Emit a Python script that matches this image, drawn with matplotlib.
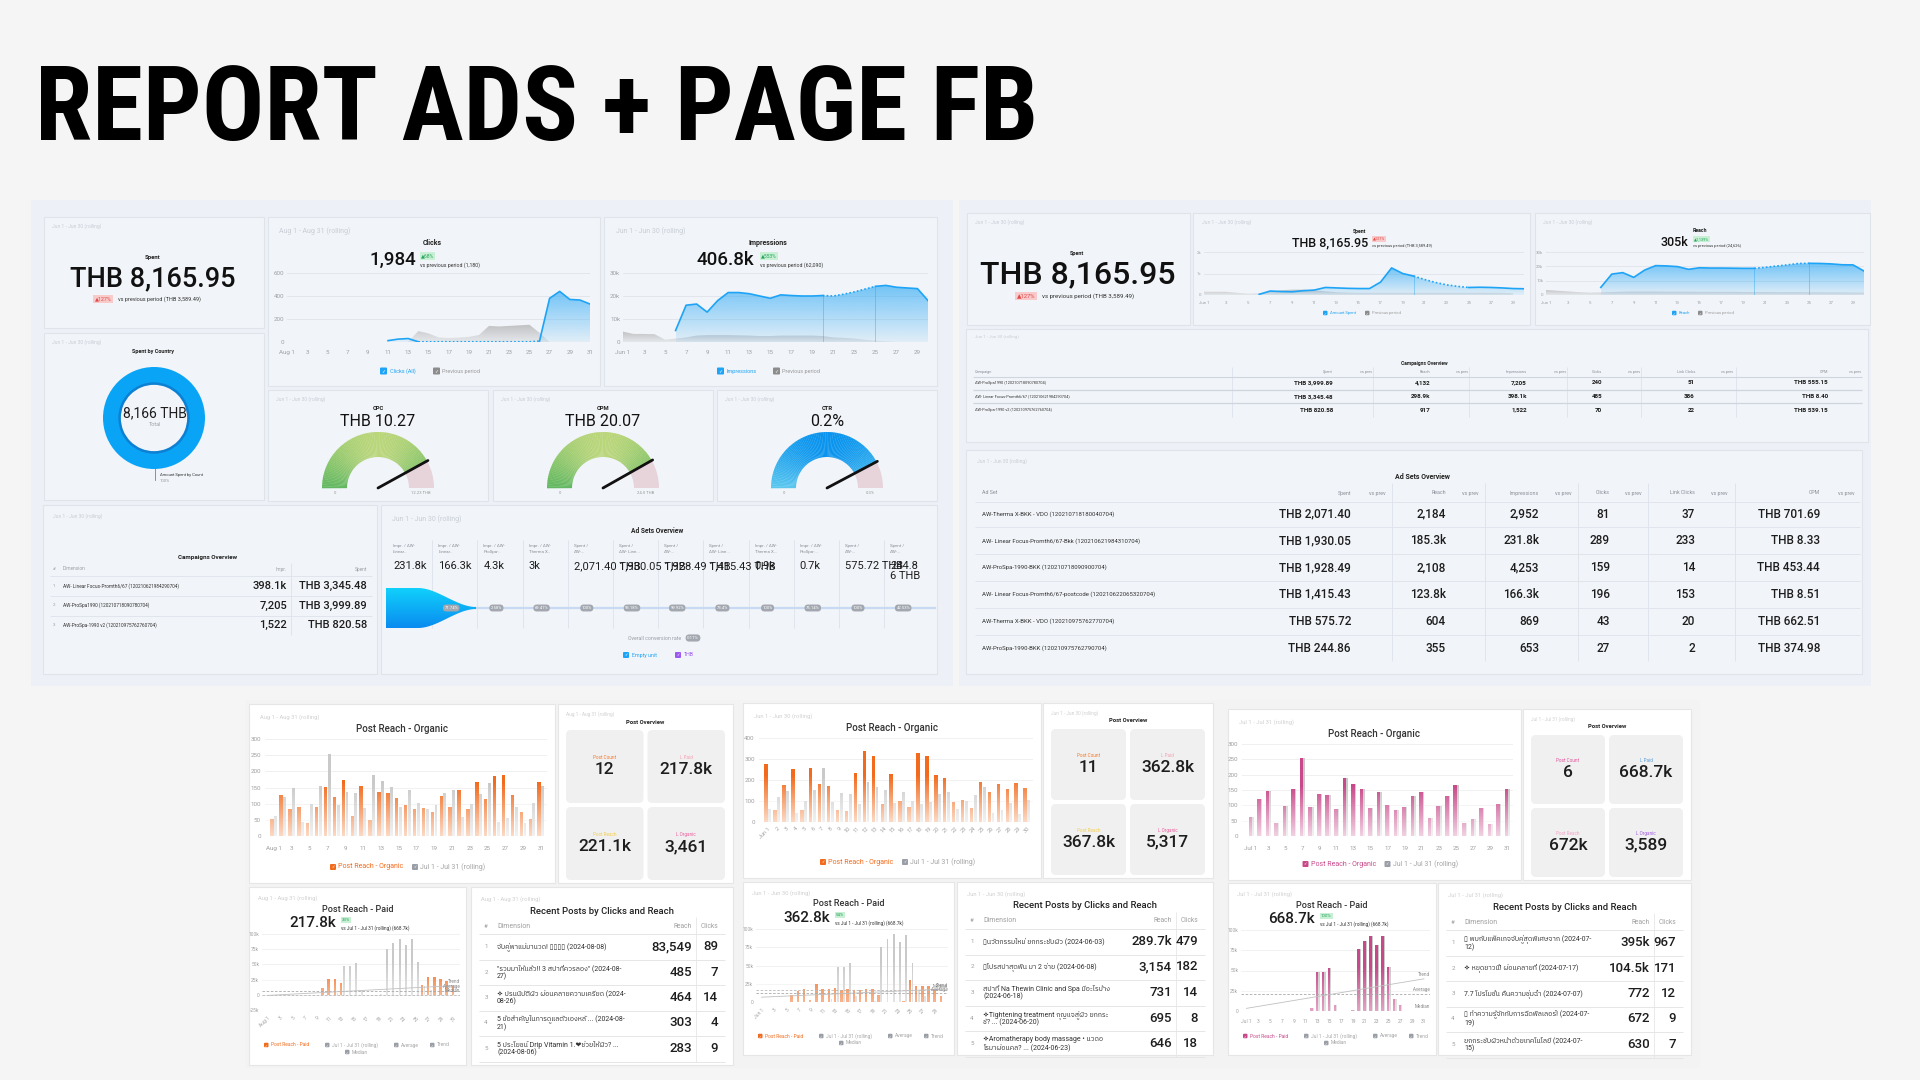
import numpy as np
import matplotlib
matplotlib.use("Agg")
import matplotlib.pyplot as plt
from matplotlib import font_manager as fm
from matplotlib.patches import FancyBboxPatch, Rectangle, Wedge, Polygon
from matplotlib.colors import to_rgb
from matplotlib.transforms import blended_transform_factory
try:
    from matplotlib.ft2font import FT2Font
except Exception:
    FT2Font = None

# ======================= DATA =======================
report_title = "REPORT ADS + PAGE FB"
period_jun = "Jun 1 - Jun 30 (rolling)"
period_aug = "Aug 1 - Aug 31 (rolling)"
period_jul = "Jul 1 - Jul 31 (rolling)"

spent_total = 8165.95
spent_prev_total = 3589.49
spent_change = "127%"

clicks_total = "1,984"; clicks_change = "68%"; clicks_prev_total = "1,180"
impr_total = "406.8k"; impr_change = "553%"; impr_prev_total = "62,090"
reach_total = "305k"; reach_change = "1,139%"; reach_prev_total = "24,626"

aug_days = list(range(1, 32))
jun_days = list(range(1, 31))
jul_days = list(range(1, 32))
N = np.nan

clicks_cur = [N]*10 + [12, 25, 30, 2, 2, 2, 2, 2, 2, 2, 2, 2, 2, 2, 2, 8, 380, 440, 370, 365, 330]
clicks_prev = [N]*12 + [2, 95, 75, 40, 35, 38, 45, 60, 140, 135, 140, 145, 150, 80, 0] + [N]*4

impr_cur = [N]*5 + [5000, 16000, 16500, 13000, 18000, 21500, 21500, 21000, 20000, 19000, 20500, 20200,
                    20000, 20000, 20200, 20000, 20800, 21800, 23000, 24200, 24600, 23800, 23500, 23200, 18000]
impr_prev = [4500, 3500, 3500, 3400, 1000, 1500, 2000, 2800, 3000, 3000, 3000, 2900, 2800, 2600, 2600,
             2800, 2800, 2800, 2800, 2600, 2000, 1800, 1500, 1000, 600, 300, 0, N, N, N]

spent_daily_cur = [N]*5 + [30, 185, 160, 150, 200, 230, 350, 330, 310, 300, 300, 600, 1260, 1000, 880, 720,
                           580, 470, 400, 350, 360, 350, 330, 300, 290]
spent_daily_prev = [150, 150, 150, 100, 60, 80, 150, 220, 250, 250, 220, 170, 130, 110, 100, 100, 100, 100, 100,
                    100, 100, 100, 100, 100, 100, 100, 100, 100, 80, N]

reach_cur = [N]*5 + [5300, 14600, 15600, 12300, 17400, 20500, 20300, 19800, 17900, 19000, 18800, 18800,
                     18700, 18600, 18600, 19300, 20200, 21000, 22000, 22100, 22000, 21700, 21100, 21000, 16700]
reach_prev = [3500, 3000, 2500, 2000, 1600, 1800, 2100, 2300, 2400, 2400, 2400, 2300, 2300, 2300, 2200,
              2200, 2200, 2200, 2100, 2100, 2100, 2000, 2000, 2000, 1900, 1900, 1800, 1800, 1700, 1700]

gauge_names = ["CPC", "CPM", "CTR"]
gauge_values = [10.27, 20.07, 0.245]
gauge_max = [12.23, 24.0, 0.29]
gauge_labels = ["THB 10.27", "THB 20.07", "0.2%"]
gauge_max_labels = ["12.23 THB", "24.0 THB", "0.3%"]

country_spent = [8165.95]
country_label = "8,166 THB"

camp_names = ["AW- Linear Focus-Promth6/67 (120210621984290704)", "AW-ProSpa1990 (120210718090780704)",
              "AW-ProSpa-1990 v2 (120210975762760704)"]
camp_impr = ["398.1k", "7,205", "1,522"]
camp_spent = [3345.48, 3999.89, 820.58]

rc_names = ["AW-ProSpa1990 (120210718090780704)", "AW- Linear Focus-Promth6/67 (120210621984290704)",
            "AW-ProSpa-1990 v2 (120210975762760704)"]
rc_spent = [3999.89, 3345.48, 820.58]
rc_reach = ["4,132", "298.9k", "917"]
rc_impr = ["7,205", "398.1k", "1,522"]
rc_clicks = [240, 485, 70]
rc_link = [51, 386, 22]
rc_cpm = [555.15, 8.40, 539.15]

as_names = ["AW-Therma X-BKK - VDO (120210718180040704)", "AW- Linear Focus-Promth6/67-Bkk (120210621984310704)",
            "AW-ProSpa-1990-BKK (120210718090900704)", "AW- Linear Focus-Promth6/67-postcode (120210622065320704)",
            "AW-Therma X-BKK - VDO (120210975762770704)", "AW-ProSpa-1990-BKK (120210975762790704)"]
as_spent = [2071.40, 1930.05, 1928.49, 1415.43, 575.72, 244.86]
as_reach = ["2,184", "185.3k", "2,108", "123.8k", "604", "355"]
as_impr = ["2,952", "231.8k", "4,253", "166.3k", "869", "653"]
as_clicks = [81, 289, 159, 196, 43, 27]
as_link = [37, 233, 14, 153, 20, 2]
as_cpm = [701.69, 8.33, 453.44, 8.51, 662.51, 374.98]

fun_headers = ["Impr. / AW-\nLinear..", "Impr. / AW-\nLinear..", "Impr. / AW-\nProSpa-..", "Impr. / AW-\nTherma X..",
               "Spent /\nAW-...", "Spent /\nAW- Line...", "Spent /\nAW-...", "Spent /\nAW- Line...",
               "Impr. / AW-\nTherma X...", "Impr. / AW-\nProSpa-...", "Spent /\nAW-...", "Spent /\nAW-..."]
fun_values = ["231.8k", "166.3k", "4.3k", "3k", "2,071.40 THB", "1,930.05 THB", "1,928.49 THB", "1,415.43 THB",
              "0.9k", "0.7k", "575.72 THB", "244.8\n6 THB"]
fun_rates = ["", "71.74%", "2.58%", "69.41%", "100%", "93.18%", "99.92%", "73.4%", "100%", "75.14%", "100%", "42.53%"]
fun_overall = "0.11%"

org_aug = [53, 127, 84, 89, 39, 91, 153, 122, 172, 61, 154, 48, 137, 134, 116, 97, 84, 87, 73, 125, 90, 141,
           85, 168, 114, 185, 190, 127, 75, 53, 166]
org_jul = [63, 120, 148, 43, 99, 154, 255, 96, 136, 134, 88, 189, 169, 152, 90, 142, 102, 85, 95, 132, 142,
           60, 98, 130, 165, 44, 57, 91, 39, 103, 154]
org_jun = [275, 59, 176, 251, 59, 259, 183, 171, 57, 51, 235, 340, 314, 84, 230, 100, 71, 327, 316, 225, 208,
           94, 103, 68, 189, 141, 183, 155, 184, 163]

paid_aug = [0]*9 + [10500, 26000, 25500, 20000] + [0]*12 + [15500, 29000, 29500, 26000, 22000, 14000]
paid_jul = [0]*11 + [3500, 48000, 48000, 53000, 8000, 0, 0, 1000, 76000, 86000, 92500, 82000, 92000, 54000,
                     14500, 8000, 0, 0, 0, 0]
paid_jun = [0]*5 + [10000, 15000, 18000, 3000, 25000, 18000, 18000, 19000, 17000, 18000, 16000, 17000, 18000,
                    18000, 10000, 0, 0, 0, 2000, 30000, 22000, 22000, 22000, 17000, 8000]

po_count = ["12", "11", "6"]
po_paid = ["217.8k", "362.8k", "668.7k"]
po_reach = ["221.1k", "367.8k", "672k"]
po_org = ["3,461", "5,317", "3,589"]
paid_change = ["33%", "54%", "100%"]
paid_compare = "vs Jul 1 - Jul 31 (rolling) (668.7k)"

rec_aug_posts = ["จับคู่พาแม่มานวด! ▯▯▯▯ (2024-08-08)", "\"รวมมาให้แล้ว!! 3 สปาที่ควรลอง\" (2024-08-\n27)",
                 "✧ ปรนนิบัติผิว ผ่อนคลายความเครียด (2024-\n08-26)", "5 ข้อสำคัญในการดูแลตัวเองหลั ... (2024-08-\n21)",
                 "5 ประโยชน์ Drip Vitamin 1.❤ช่วยให้ผิว? ...\n(2024-08-06)"]
rec_aug_reach = ["83,549", "485", "464", "303", "283"]
rec_aug_clicks = [89, 7, 14, 4, 9]
rec_jun_posts = ["▯นวัตกรรมใหม่ ยกกระชับผิว (2024-06-03)", "▯โปรสปาสุดฟิน มา 2 จ่าย (2024-06-08)",
                 "สปาที่ Na Thewin Clinic and Spa มีอะไรบ้าง\n(2024-06-18)",
                 "✧Tightening treatment กุญแจสู่ผิว ยกกระ\nชั? ... (2024-06-20)",
                 "✧Aromatherapy body massage • นวดอ\nโรมาผ่อนคล? ... (2024-06-23)"]
rec_jun_reach = ["289.7k", "3,154", "731", "695", "646"]
rec_jun_clicks = [479, 182, 14, 8, 18]
rec_jul_posts = ["▯ พบกับแพ็คเกจจับคู่สุดพิเศษจาก (2024-07-\n12)", "✧ หยุดยาวนี้! ผ่อนคลายที่ (2024-07-17)",
                 "7.7 โปรโมชั่น คืนความชุ่มฉ่ำ (2024-07-07)", "▯ ทำความรู้จักกับการฉีดฟิลเลอร์! (2024-07-\n19)",
                 "ยกกระชับผิวหน้าด้วยเทคโนโลยี (2024-07-\n15)"]
rec_jul_reach = ["395k", "104.5k", "772", "672", "630"]
rec_jul_clicks = [967, 171, 12, 9, 7]

# ======================= FONTS =======================
names = {f.name for f in fm.fontManager.ttflist}
def pick(c, default="DejaVu Sans"):
    for n in c:
        if n in names:
            return n
    return default
BASE = pick(["Roboto", "Inter", "Noto Sans"])
TITLEF = pick(["Liberation Sans Narrow", "Roboto Condensed", "Liberation Sans", "Roboto"])

def find_thai():
    for f in fm.fontManager.ttflist:
        if "thai" in f.name.lower():
            return f.name
    if FT2Font is None:
        return None
    for f in fm.fontManager.ttflist:
        if "cjk" in f.fname.lower():
            continue
        try:
            cm = FT2Font(f.fname).get_charmap()
        except Exception:
            continue
        if 0x0E01 in cm and 0x0E32 in cm:
            return f.name
    return None
THAI = find_thai()
plt.rcParams["font.family"] = [BASE] + ([THAI] if THAI else []) + ["DejaVu Sans"]
plt.rcParams["axes.unicode_minus"] = False

# ======================= HELPERS =======================
W, H = 1920, 1080
fig = plt.figure(figsize=(19.2, 10.8), dpi=100)
fig.patch.set_facecolor("#f5f5f5")
bg = fig.add_axes([0, 0, 1, 1])
bg.set_xlim(0, W); bg.set_ylim(H, 0); bg.axis("off")

SUB = "#c9ced6"

def rect(x0, y0, x1, y1, fc, ec="none", lw=0.8, r=0, z=1):
    if r > 0:
        p = FancyBboxPatch((x0, y0), x1 - x0, y1 - y0, boxstyle=f"round,pad=0,rounding_size={r}",
                           fc=fc, ec=ec, lw=lw, zorder=z)
    else:
        p = Rectangle((x0, y0), x1 - x0, y1 - y0, fc=fc, ec=ec, lw=lw, zorder=z)
    bg.add_patch(p)

def T(x, y, s, fs, c="#222222", ha="center", va="center", w="normal", z=6, **kw):
    return bg.text(x, y, s, fontsize=fs, color=c, ha=ha, va=va, fontweight=w, zorder=z, **kw)

def hl(x0, x1, y, c="#dde2ea", lw=0.6):
    bg.plot([x0, x1], [y, y], color=c, lw=lw, zorder=3, solid_capstyle="butt")

def vl(x, y0, y1, c="#dde2ea", lw=0.6):
    bg.plot([x, x], [y0, y1], color=c, lw=lw, zorder=3, solid_capstyle="butt")

def badge(x, y, s, fs, fc, tc, ha="center"):
    bg.text(x, y, s, fontsize=fs, color=tc, ha=ha, va="center", zorder=7,
            bbox=dict(boxstyle="square,pad=0.25", fc=fc, ec="none"))

def pill(x, y, s, fs, fc="#a3a8b0", tc="white"):
    bg.text(x, y, s, fontsize=fs, color=tc, ha="center", va="center", zorder=8,
            bbox=dict(boxstyle="round,pad=0.35,rounding_size=0.8", fc=fc, ec="none"))

def check(x, y, c, label, fs, lc=None, s=6):
    rect(x, y - s / 2, x + s, y + s / 2, c, r=1, z=7)
    bg.text(x + s / 2, y, "✓", fontsize=s * 0.5, color="white", ha="center", va="center", zorder=8,
            family="DejaVu Sans")
    bg.text(x + s + 2.5, y, label, fontsize=fs, color=lc or c, ha="left", va="center", zorder=8)

def pax(l, t, r, b):
    a = fig.add_axes([l / W, 1 - b / H, (r - l) / W, (b - t) / H])
    a.patch.set_alpha(0)
    for s in a.spines.values():
        s.set_visible(False)
    a.tick_params(length=0, labelsize=4.5, labelcolor="#9ea3ab", pad=2)
    return a

def xmap(a, l, r, p0, pn, d0, dn):
    s = (pn - p0) / (dn - d0)
    a.set_xlim(d0 - (p0 - l) / s, dn + (r - pn) / s)

def grad_fill(a, x, y, color, atop, abot, z=1):
    if len(x) < 2:
        return
    verts = np.vstack([np.column_stack([x, y]), [[x[-1], 0], [x[0], 0]]])
    poly = Polygon(verts, closed=True, fc="none", ec="none", transform=a.transData)
    a.add_patch(poly)
    img = np.zeros((64, 1, 4))
    img[..., :3] = to_rgb(color)
    img[..., 3] = np.linspace(abot, atop, 64)[:, None]
    im = a.imshow(img, aspect="auto", origin="lower", extent=[x[0], x[-1], 0, np.max(y) * 1.001 + 1e-9],
                  zorder=z, interpolation="bilinear")
    im.set_clip_path(poly)

def mix(c1, c2, t):
    return tuple(np.array(to_rgb(c1)) * (1 - t) + np.array(to_rgb(c2)) * t)

def day_labels(ticks, prefix):
    return [f"{prefix} {d}" if d == 1 else str(d) for d in ticks]

BLUE = "#1ea4f6"

def top_line(l, t, r, b, days, cur, prev, yticks, ylabels, prefix, dotted, vlines, fs=4.5, padx=6):
    a = pax(l, t, r, b)
    d = np.asarray(days, float)
    cur = np.array(cur, float); prev = np.array(prev, float)
    a.set_yticks(yticks); a.set_yticklabels(ylabels)
    xt = list(days[::2]); a.set_xticks(xt); a.set_xticklabels(day_labels(xt, prefix))
    a.grid(axis="y", color="#e0e4ea", lw=0.6); a.set_axisbelow(True)
    mp = ~np.isnan(prev)
    grad_fill(a, d[mp], prev[mp], "#8c8c8c", 0.5, 0.12, z=1)
    mc = ~np.isnan(cur)
    grad_fill(a, d[mc], cur[mc], BLUE, 0.6, 0.08, z=2)
    d0, d1 = dotted
    for mask, ls in [(d <= d0, "-"), ((d >= d0) & (d <= d1), (0, (1, 1.3))), (d >= d1, "-")]:
        mm = mask & mc
        a.plot(d[mm], cur[mm], color=BLUE, lw=1.2, ls=ls, zorder=3)
    for v in vlines:
        a.plot([v, v], [0, cur[d == v][0]], color=BLUE, lw=0.4, alpha=0.7, zorder=3)
    a.set_xlim(d[0], d[-1]); a.set_ylim(yticks[0], yticks[-1])
    a.tick_params(axis="both", labelsize=fs)
    a.tick_params(axis="x", pad=padx)
    return a

# ======================= TITLE =======================
tt = T(35, 140, report_title, 60, "#000000", ha="left", va="baseline", w="bold", family=TITLEF)
fig.canvas.draw()
wpx = tt.get_window_extent(renderer=fig.canvas.get_renderer()).width
tt.set_fontsize(60 * 1004 / wpx)

# ======================= LEFT BLOCK =======================
rect(31, 200, 953, 686, "#edf1f7")
PF, PE = "#f1f4f8", "#dfe4eb"
for bx in [(44, 217, 264, 328), (44, 333, 264, 500), (268, 217, 600, 386), (604, 217, 937, 386),
           (268, 390, 488, 501), (493, 390, 713, 501), (717, 390, 937, 501), (43, 505, 377, 674),
           (381, 505, 937, 674)]:
    rect(*bx, PF, ec=PE, lw=0.8, z=2)

# Spent
T(52, 226, period_jun, 3.5, SUB, ha="left")
T(153, 258, "Spent", 4.3, w="bold")
T(153, 279, f"THB {spent_total:,.2f}", 19.5, "#111111", w="medium")
badge(103, 299, "▲" + spent_change, 3.8, "#f9caca", "#e04848")
T(118, 299, f"vs previous period (THB {spent_prev_total:,.2f})", 4.0, "#333333", ha="left")

# Spent by Country donut
T(52, 342, period_jun, 3.5, SUB, ha="left")
T(153, 351, "Spent by Country", 4.0, w="bold")
da = pax(103, 367, 205, 469)
da.pie(country_spent, radius=1, colors=["#0aa4f6"], startangle=90,
       wedgeprops=dict(width=0.32, edgecolor="none"))
da.add_patch(Wedge((0, 0), 0.7, 0, 360, width=0.05, fc="#0c80d3", ec="none"))
da.set_xlim(-1, 1); da.set_ylim(-1, 1); da.axis("off")
T(155, 413, country_label, 10, "#1d1d1d")
T(155, 424, "Total", 4.0, "#a0a5ad")
bg.plot([155, 155], [468, 480], color="#0aa4f6", lw=0.6, zorder=5)
T(160, 475, "Amount Spent by Count", 3.0, "#333333", ha="left")
T(160, 480.5, "100%", 3.0, "#999999", ha="left")

# Clicks
T(279, 231, period_aug, 5, SUB, ha="left")
T(432, 243, "Clicks", 5, w="bold")
T(416, 260, clicks_total, 13.5, "#111111", ha="right", w="medium")
badge(421, 256, "▲" + clicks_change, 3.6, "#c9efd5", "#22a45a", ha="left")
T(420, 265, f"vs previous period ({clicks_prev_total})", 3.8, "#333333", ha="left")
top_line(287, 273, 590, 342, aug_days, clicks_cur, clicks_prev, [0, 200, 400, 600],
         ["0", "200", "400", "600"], "Aug", (14, 26), [])
check(380, 371, BLUE, "Clicks (All)", 4.0, s=7)
check(433, 371, "#8c8c8c", "Previous period", 4.0, lc="#9a9a9a", s=7)

# Impressions
T(616, 231, period_jun, 5, SUB, ha="left")
T(768, 243, "Impressions", 5, w="bold")
T(754, 260, impr_total, 13.5, "#111111", ha="right", w="medium")
badge(761, 256, "▲" + impr_change, 3.6, "#c9efd5", "#22a45a", ha="left")
T(760, 265, f"vs previous period ({impr_prev_total})", 3.8, "#333333", ha="left")
top_line(623, 273, 928, 342, jun_days, impr_cur, impr_prev, [0, 10000, 20000, 30000],
         ["0", "10k", "20k", "30k"], "Jun", (20, 25), [20, 25])
check(717, 371, BLUE, "Impressions", 4.0, s=7)
check(773, 371, "#8c8c8c", "Previous period", 4.0, lc="#9a9a9a", s=7)

# Gauges
gauge_cols = [("#5fb760", "#bad67a"), ("#5fb760", "#bad67a"), ("#5cc8ef", "#0a94ee")]
for i, (l, cx) in enumerate([(268, 378), (493, 603), (717, 827)]):
    T(l + 8, 399, period_jun, 3.5, SUB, ha="left")
    T(cx, 408, gauge_names[i], 4.2, w="bold")
    T(cx, 422, gauge_labels[i], 11.5, "#111111")
    ga = pax(cx - 60, 426, cx + 60, 496)
    ga.set_xlim(-60, 60); ga.set_ylim(-8, 62); ga.axis("off")
    frac = gauge_values[i] / gauge_max[i]
    tv = 180 * (1 - frac)
    edges = np.linspace(tv, 180, 80)
    for a1, a2 in zip(edges[:-1], edges[1:]):
        mid = np.radians((a1 + a2) / 2)
        ga.add_patch(Wedge((0, 0), 56, a1, a2 + 0.3, width=25,
                           fc=mix(gauge_cols[i][0], gauge_cols[i][1], np.sin(mid)), ec="none"))
    ga.add_patch(Wedge((0, 0), 56, 0, tv, width=25, fc="#e7d3da", ec="none"))
    ga.plot([0, 57 * np.cos(np.radians(tv))], [0, 57 * np.sin(np.radians(tv))], color="#111111", lw=2.0,
            solid_capstyle="round")
    T(cx - 43, 493, "0", 3.0, "#999999")
    T(cx + 43, 493, gauge_max_labels[i], 3.0, "#999999")

# Campaigns overview (left)
T(53, 516, period_jun, 3.5, SUB, ha="left")
T(208, 557, "Campaigns Overview", 4.5, w="bold")
T(53, 569, "#", 3.2, "#9aa0a8", ha="left")
T(63, 569, "Dimension", 3.4, "#9aa0a8", ha="left")
T(287, 569, "Impr.", 3.4, "#9aa0a8", ha="right")
T(367, 569, "Spent", 3.4, "#9aa0a8", ha="right")
hl(50, 372, 576)
vl(291, 563, 635)
for k in range(3):
    y = 586 + k * 19.5
    T(53, y, str(k + 1), 3.2, "#9aa0a8", ha="left")
    T(63, y, camp_names[k], 3.4, "#333333", ha="left")
    T(287, y, camp_impr[k], 8, "#1d1d1d", ha="right", w="medium")
    T(367, y, f"THB {camp_spent[k]:,.2f}", 8, "#1d1d1d", ha="right", w="medium")
    if k < 2:
        hl(50, 372, y + 10)

# Ad sets funnel (values overflow into neighbouring columns, as in the source dashboard)
T(392, 519, period_jun, 5, SUB, ha="left")
T(657, 531, "Ad Sets Overview", 4.8, w="bold")
colx = [387 + 45.2 * i for i in range(12)]
for i in range(12):
    if i > 0:
        vl(colx[i], 540, 628)
    T(colx[i] + 6, 549, fun_headers[i], 3.2, "#8a8f99", ha="left", linespacing=1.6)
    T(colx[i] + 6, 561, fun_values[i], 8, "#1d1d1d", ha="left", va="top", linespacing=1.05)
tt_ = np.linspace(0, 1, 40)
sm = tt_ * tt_ * (3 - 2 * tt_)
xs = np.concatenate([[386], 418 + 58 * tt_, (418 + 58 * tt_)[::-1], [386]])
ys = np.concatenate([[588], 588 + 19 * sm, (628 - 19 * sm)[::-1], [628]])
fpoly = Polygon(np.column_stack([xs, ys]), closed=True, fc="none", ec="none", transform=bg.transData)
bg.add_patch(fpoly)
fimg = np.zeros((40, 1, 3))
for j in range(40):
    fimg[j, 0] = mix("#10d0fb", "#0a8cf0", j / 39)
fim = bg.imshow(fimg, aspect="auto", origin="upper", extent=[386, 476, 628, 588], zorder=4,
                interpolation="bilinear")
fim.set_clip_path(fpoly)
bg.plot([476, 935], [608, 608], color="#c7d9f3", lw=1.6, zorder=3)
for i in range(1, 12):
    pill(colx[i] + 19, 608, fun_rates[i], 3.0)
T(681, 638, "Overall conversion rate", 3.8, "#9aa0a8", ha="right")
pill(693, 638, fun_overall, 3.2)
check(623, 655, BLUE, "Empty unit", 3.8, s=6)
check(675, 655, "#9b59f0", "THB", 3.8, s=6)

# ======================= RIGHT BLOCK =======================
rect(959, 200, 1871, 686, "#edf1f7")
for bx in [(967, 213, 1190, 325), (1193, 213, 1530, 325), (1535, 213, 1870, 325), (966, 329, 1868, 442),
           (966, 450, 1862, 674)]:
    rect(*bx, PF, ec=PE, lw=0.8, z=2)

T(975, 222, period_jun, 3.5, SUB, ha="left")
T(1077, 253, "Spent", 4.0, w="bold")
T(1078, 275, f"THB {spent_total:,.2f}", 23, "#111111", w="medium")
badge(1026, 296, "▲" + spent_change, 4.2, "#f9caca", "#e04848")
T(1042, 296, f"vs previous period (THB {spent_prev_total:,.2f})", 4.4, "#333333", ha="left")

T(1202, 222, period_jun, 3.5, SUB, ha="left")
T(1360, 231, "Spent", 3.8, w="bold")
T(1368, 243, f"THB {spent_total:,.2f}", 9, "#111111", ha="right", w="medium")
badge(1373, 239, "▲" + spent_change, 2.8, "#f9caca", "#e04848", ha="left")
T(1372, 246.5, f"vs previous period (THB {spent_prev_total:,.2f})", 2.9, "#333333", ha="left")
top_line(1204, 252, 1524, 295, jun_days, spent_daily_cur, spent_daily_prev, [0, 1000, 2000], ["0", "1k", "2k"],
         "Jun", (20, 25), [20], fs=3.2, padx=4)
check(1323, 313, BLUE, "Amount Spent", 3.0, s=4.5)
check(1365, 313, "#8c8c8c", "Previous period", 3.0, lc="#9a9a9a", s=4.5)

T(1543, 222, period_jun, 3.5, SUB, ha="left")
T(1700, 231, "Reach", 3.8, w="bold")
T(1688, 243, reach_total, 9, "#111111", ha="right", w="medium")
badge(1694, 239, "▲" + reach_change, 2.8, "#c9efd5", "#22a45a", ha="left")
T(1693, 246.5, f"vs previous period ({reach_prev_total})", 2.9, "#333333", ha="left")
top_line(1546, 252, 1864, 295, jun_days, reach_cur, reach_prev, [0, 10000, 20000, 30000],
         ["0", "10k", "20k", "30k"], "Jun", (20, 25), [20, 25], fs=3.2, padx=4)
check(1672, 313, BLUE, "Reach", 3.0, s=4.5)
check(1698, 313, "#8c8c8c", "Previous period", 3.0, lc="#9a9a9a", s=4.5)

# Campaigns overview (right)
T(975, 337, period_jun, 3.2, SUB, ha="left")
T(1424, 363, "Campaigns Overview", 3.6, w="bold")
rc_right = [1333, 1430, 1527, 1602, 1695, 1828]
rc_vs = [1366, 1462, 1560, 1634, 1727, 1855]
rc_head = ["Spent", "Reach", "Impressions", "Clicks", "Link Clicks", "CPM"]
T(975, 372, "Campaign", 2.8, "#8a8f99", ha="left")
for j in range(6):
    T(rc_right[j], 372, rc_head[j], 2.8, "#8a8f99", ha="right")
    T(rc_vs[j], 372, "vs prev", 2.8, "#8a8f99")
for x in [1232, 1373, 1469, 1567, 1641, 1736]:
    vl(x, 367, 417)
hl(973, 1862, 377, c="#cfd5de", lw=0.8)
for k in range(3):
    y = 383 + k * 13.5
    T(975, y, rc_names[k], 2.8, "#333333", ha="left")
    vals = [f"THB {rc_spent[k]:,.2f}", rc_reach[k], rc_impr[k], str(rc_clicks[k]), str(rc_link[k]),
            f"THB {rc_cpm[k]:,.2f}"]
    for j in range(6):
        T(rc_right[j], y, vals[j], 4.5, "#1d1d1d", ha="right", w="bold")
    if k < 2:
        hl(973, 1862, y + 6.5, c="#cfd5de", lw=0.9)

# Ad sets overview (right)
T(977, 461, period_jun, 3.6, SUB, ha="left")
T(1422, 477, "Ad Sets Overview", 5.0, w="bold")
as_right = [1351, 1446, 1539, 1610, 1695, 1820]
as_vs = [1377, 1470, 1563, 1633, 1719, 1846]
T(982, 493, "Ad Set", 3.8, "#8a8f99", ha="left")
for j in range(6):
    T(as_right[j], 493, rc_head[j], 3.8, "#8a8f99", ha="right")
    T(as_vs[j], 493, "vs prev", 3.8, "#8a8f99")
for x in [1392, 1485, 1578, 1648, 1735]:
    vl(x, 483, 661)
hl(975, 1860, 502)
for k in range(6):
    y = 514 + k * 26.8
    T(982, y, as_names[k], 4.3, "#333333", ha="left")
    vals = [f"THB {as_spent[k]:,.2f}", as_reach[k], as_impr[k], str(as_clicks[k]), str(as_link[k]),
            f"THB {as_cpm[k]:,.2f}"]
    for j in range(6):
        T(as_right[j], y, vals[j], 8.5, "#1d1d1d", ha="right", w="medium")
    if k < 5:
        hl(975, 1860, y + 13.4)

# ======================= BOTTOM (FB PAGE) =======================
rect(245, 700, 1700, 1068, "#f3f3f3")
WHITE_E = "#e6e6e6"
ORANGE = "#f26b1d"
PINK = "#c8488a"
GRAYB = "#c9c9c9"


def fade(a, x0, x1, ytop, alpha=0.85):
    img = np.ones((64, 1, 4))
    img[..., 3] = np.linspace(alpha, 0, 64)[:, None]
    a.imshow(img, aspect="auto", origin="lower", extent=[x0, x1, 0, ytop], zorder=2.5, interpolation="bilinear")


def sub_dash(cfg):
    days = cfg["days"]
    d = np.asarray(days, float)
    per = cfg["period"]
    col = cfg["color"]
    # ---- organic
    x0, y0, x1, y1 = cfg["org"]
    rect(x0, y0, x1, y1, "white", ec=WHITE_E, z=2)
    T(x0 + 11, y0 + 13, per, 4.2, "#d0d0d0", ha="left")
    cxm = (x0 + x1) / 2
    T(cxm, y0 + 25, "Post Reach - Organic", 7, "#333333", w="medium")
    l, r, t, b = x0 + cfg["org_l"], x1 - 8, y0 + 35, y0 + cfg["org_b"]
    a = pax(l, t, r, b)
    cur = np.asarray(cfg["org_cur"], float); prev = np.asarray(cfg["org_prev"], float)
    if cfg["overlap"]:
        a.bar(d + 0.12, prev, width=0.42, color=GRAYB, zorder=2)
        a.bar(d - 0.06, cur, width=0.42, color=col, zorder=2.1)
    else:
        a.bar(d - 0.21, cur, width=0.38, color=col, zorder=2.1)
        a.bar(d + 0.2, prev, width=0.32, color=GRAYB, zorder=2)
    yt = cfg["org_yt"]
    a.set_yticks(yt); a.set_yticklabels([str(v) for v in yt])
    a.grid(axis="y", color="#eeeeee", lw=0.6); a.set_axisbelow(True)
    xmap(a, l, r, l + 9, r - 6, days[0], days[-1])
    xl = a.get_xlim()
    fade(a, xl[0], xl[1], yt[-1] * 0.55, 0.75)
    a.set_xlim(xl); a.set_ylim(0, yt[-1])
    xt = days[::cfg["org_every"]]
    a.set_xticks(xt)
    a.tick_params(axis="y", labelsize=4.5, labelcolor="#a0a0a0", pad=3)
    if cfg["org_rot"]:
        a.set_xticklabels(day_labels(xt, cfg["prefix"]), rotation=45, ha="right", rotation_mode="anchor")
        a.tick_params(axis="x", labelsize=4.0, labelcolor="#a0a0a0", pad=3)
    else:
        a.set_xticklabels(day_labels(xt, cfg["prefix"]))
        a.tick_params(axis="x", labelsize=4.5, labelcolor="#a0a0a0", pad=7)
    ly = y1 - 16
    check(cxm - 72, ly, col, "Post Reach - Organic", 5.0, s=6)
    check(cxm + 10, ly, "#9a9ea6", period_jul, 5.0, lc="#a5a5a5", s=6)

    # ---- post overview
    x0, y0, x1, y1 = cfg["po"]
    rect(x0, y0, x1, y1, "white", ec=WHITE_E, z=2)
    T(x0 + 8, y0 + 10, per, 3.4, "#d0d0d0", ha="left")
    xm = (x0 + x1) / 2
    T(xm, y0 + 18, "Post Overview", 4.2, "#222222", w="bold")
    ch = (y1 - y0 - 33) / 2
    cards = [(x0 + 8, xm - 2, y0 + 26), (xm + 2, x1 - 8, y0 + 26),
             (x0 + 8, xm - 2, y0 + 30 + ch), (xm + 2, x1 - 8, y0 + 30 + ch)]
    for (cx0, cx1, cy0), lab, lc, val in zip(cards, ["Post Count", "L Paid", "Post Reach", "L Organic"],
                                            cfg["card_colors"], cfg["cards"]):
        rect(cx0, cy0, cx1, cy0 + ch, "#f0f0f0", r=5, z=3)
        T((cx0 + cx1) / 2, cy0 + 0.37 * ch, lab, 3.3, lc)
        T((cx0 + cx1) / 2, cy0 + 0.54 * ch, val, 12.5, "#1d1d1d", w="medium")

    # ---- paid
    x0, y0, x1, y1 = cfg["paid"]
    rect(x0, y0, x1, y1, "white", ec=WHITE_E, z=2)
    T(x0 + 9, y0 + 11, per, 4.2, "#d0d0d0", ha="left")
    cxm = (x0 + x1) / 2
    T(cxm, y0 + 22, "Post Reach - Paid", 6.5, "#333333", w="medium")
    T(x0 + 87, y0 + 36, cfg["paid_total"], 11, "#1d1d1d", ha="right", w="medium")
    badge(x0 + 93, y0 + 33, cfg["paid_change"], 3.2, "#c9efd5", "#22a45a", ha="left")
    T(x0 + 92, y0 + 41, paid_compare, 3.4, "#333333", ha="left")
    l, r, t, b = x0 + 13, x1 - 6, y0 + 47, y0 + cfg["paid_b"]
    a = pax(l, t, r, b)
    pc = np.asarray(cfg["paid_cur"], float); pp = np.asarray(cfg["paid_prev"], float)
    if cfg["overlap"]:
        a.bar(d + 0.14, pp, width=0.45, color=GRAYB, zorder=2)
        a.bar(d - 0.06, pc, width=0.45, color=col, zorder=2.1)
    else:
        a.bar(d - 0.17, pc, width=0.4, color=col, zorder=2.1)
        a.bar(d + 0.25, pp, width=0.3, color=GRAYB, zorder=2)
    yt = cfg["paid_yt"]
    a.set_yticks(yt)
    a.set_yticklabels([("-" if v < 0 else "") + (f"{abs(v)//1000}k" if v else "0") for v in yt])
    a.grid(axis="y", color="#efefef", lw=0.6); a.set_axisbelow(True)
    xmap(a, l, r, l + 5.5, r - 6, days[0], days[-1])
    xl = a.get_xlim()
    fade(a, xl[0], xl[1], 55000, 0.5)
    avg = np.mean(pc); med = np.median(pc); p = np.polyfit(d, pc, 1)
    a.plot(xl, [avg, avg], color="#a8a8a8", lw=0.6, ls=(0, (3, 2)), zorder=3)
    a.plot(xl, [med, med], color="#b8b8b8", lw=0.6, ls=(0, (3, 2)), zorder=3)
    a.plot(d, np.polyval(p, d), color="#c0c0c0", lw=0.6, zorder=3)
    rng = yt[-1] - yt[0]
    tr = blended_transform_factory(a.transAxes, a.transData)
    a.text(1.0, np.polyval(p, d[-1]) + 0.05 * rng, "Trend", transform=tr, ha="right", va="center", fontsize=3.3,
           color="#888888", zorder=4)
    a.text(1.0, avg + 0.05 * rng, "Average", transform=tr, ha="right", va="center", fontsize=3.3,
           color="#888888", zorder=4)
    a.text(1.0, med + 0.05 * rng, "Median", transform=tr, ha="right", va="center", fontsize=3.3,
           color="#888888", zorder=4)
    a.set_xlim(xl); a.set_ylim(yt[0], yt[-1])
    xt = days[::2]
    a.set_xticks(xt)
    a.tick_params(axis="y", labelsize=3.5, labelcolor="#a0a0a0", pad=2)
    if cfg["paid_rot"]:
        a.set_xticklabels(day_labels(xt, cfg["prefix"]), rotation=45, ha="right", rotation_mode="anchor")
        a.tick_params(axis="x", labelsize=3.5, labelcolor="#a0a0a0", pad=4)
    else:
        a.set_xticklabels(day_labels(xt, cfg["prefix"]))
        a.tick_params(axis="x", labelsize=3.5, labelcolor="#a0a0a0", pad=6)
    ly = y0 + cfg["leg_y"]
    check(x0 + 15, ly, col, "Post Reach - Paid", 3.5, s=4.5)
    check(x0 + 76, ly, "#9a9ea6", period_jul, 3.5, lc="#a5a5a5", s=4.5)
    check(x0 + 145, ly, "#9a9ea6", "Average", 3.5, lc="#a5a5a5", s=4.5)
    check(x0 + 181, ly, "#9a9ea6", "Trend", 3.5, lc="#a5a5a5", s=4.5)
    check(x0 + 96, ly + 7, "#9a9ea6", "Median", 3.5, lc="#a5a5a5", s=4.5)

    # ---- recent posts
    x0, y0, x1, y1 = cfg["rec"]
    rect(x0, y0, x1, y1, "white", ec=WHITE_E, z=2)
    T(x0 + 10, y0 + 12, per, 4.2, "#d0d0d0", ha="left")
    T((x0 + x1) / 2, y0 + 24, "Recent Posts by Clicks and Reach", 6.8, "#222222", w="medium")
    hy = y0 + 39
    T(x0 + 15, hy, "#", 4.5, "#a0a0a0")
    T(x0 + 26, hy, "Dimension", 5, "#a0a0a0", ha="left")
    T(x1 - 41, hy, "Reach", 4.8, "#a0a0a0", ha="right")
    T(x1 - 15, hy, "Clicks", 4.8, "#a0a0a0", ha="right")
    vl(x1 - 37, y0 + 30, y0 + 47 + 5 * 25.5, c="#e6e6e6")
    for k in range(6):
        hl(x0 + 8, x1 - 8, y0 + 47 + k * 25.5, c="#e6e6e6", lw=0.7)
    for k in range(5):
        y = y0 + 59.5 + k * 25.5
        T(x0 + 15, y, str(k + 1), 4.5, "#a0a0a0")
        T(x0 + 26, y, cfg["posts"][k], 5.0, "#333333", ha="left", linespacing=1.05)
        T(x1 - 41, y, cfg["reach"][k], 9.5, "#1d1d1d", ha="right", w="medium")
        T(x1 - 15, y, str(cfg["clicks"][k]), 9.5, "#1d1d1d", ha="right", w="medium")


sub_dash(dict(days=aug_days, period=period_aug, color=ORANGE, prefix="Aug",
              org=(249, 704, 555, 883), po=(558, 704, 733, 883), paid=(249, 887, 466, 1065), rec=(471, 887, 733, 1065),
              org_l=16, org_b=132, org_cur=org_aug, org_prev=org_jul, overlap=False,
              org_yt=[0, 50, 100, 150, 200, 250, 300], org_every=2, org_rot=False,
              card_colors=["#f47a2e", "#f2a3b3", "#f5cf4f", "#ec5d9e"],
              cards=[po_count[0], po_paid[0], po_reach[0], po_org[0]],
              paid_total=po_paid[0], paid_change=paid_change[0], paid_b=123, paid_cur=paid_aug, paid_prev=paid_jul,
              paid_yt=[-25000, 0, 25000, 50000, 75000, 100000], paid_rot=True, leg_y=158,
              posts=rec_aug_posts, reach=rec_aug_reach, clicks=rec_aug_clicks))

sub_dash(dict(days=jun_days, period=period_jun, color=ORANGE, prefix="Jun",
              org=(743, 703, 1041, 878), po=(1043, 703, 1213, 878), paid=(743, 882, 954, 1055), rec=(957, 882, 1213, 1055),
              org_l=16, org_b=119, org_cur=org_jun, org_prev=org_jul[:30], overlap=False,
              org_yt=[0, 100, 200, 300, 400], org_every=1, org_rot=True,
              card_colors=["#f47a2e", "#f2a3b3", "#f5cf4f", "#ec5d9e"],
              cards=[po_count[1], po_paid[1], po_reach[1], po_org[1]],
              paid_total=po_paid[1], paid_change=paid_change[1], paid_b=120, paid_cur=paid_jun, paid_prev=paid_jul[:30],
              paid_yt=[0, 25000, 50000, 75000, 100000], paid_rot=True, leg_y=154,
              posts=rec_jun_posts, reach=rec_jun_reach, clicks=rec_jun_clicks))

sub_dash(dict(days=jul_days, period=period_jul, color=PINK, prefix="Jul",
              org=(1228, 709, 1521, 880), po=(1523, 709, 1691, 880), paid=(1228, 883, 1436, 1055), rec=(1438, 883, 1691, 1055),
              org_l=14, org_b=127, org_cur=org_jul, org_prev=org_jul, overlap=True,
              org_yt=[0, 50, 100, 150, 200, 250, 300], org_every=2, org_rot=False,
              card_colors=["#e0559a", "#5b9bd5", "#f1a3c6", "#a05be0"],
              cards=[po_count[2], po_paid[2], po_reach[2], po_org[2]],
              paid_total=po_paid[2], paid_change=paid_change[2], paid_b=128, paid_cur=paid_jul, paid_prev=paid_jul,
              paid_yt=[0, 25000, 50000, 75000, 100000], paid_rot=False, leg_y=153,
              posts=rec_jul_posts, reach=rec_jul_reach, clicks=rec_jul_clicks))

bg.set_xlim(0, W); bg.set_ylim(H, 0)
fig.savefig("out.png", dpi=100, facecolor=fig.get_facecolor())
